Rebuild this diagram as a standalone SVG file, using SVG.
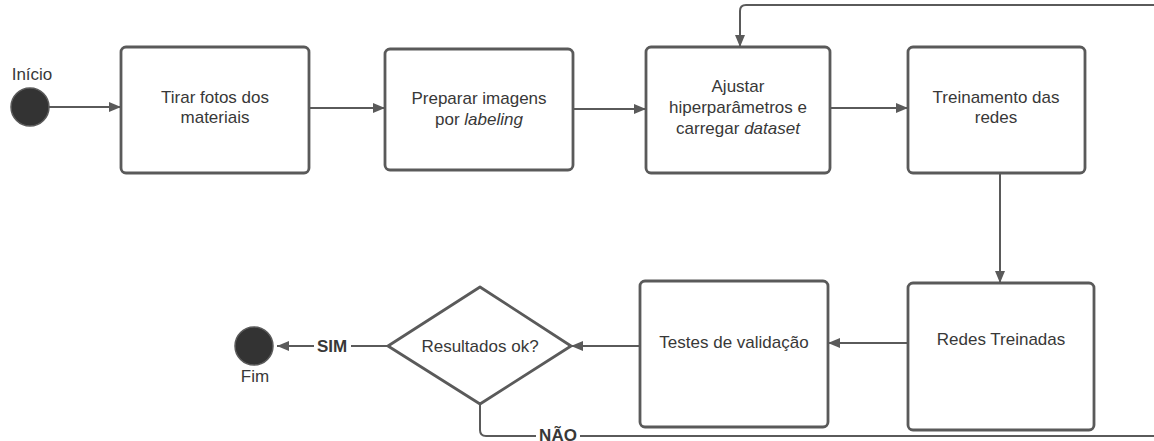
<svg xmlns="http://www.w3.org/2000/svg" width="1154" height="441" viewBox="0 0 1154 441">
<defs>
<style>
.box{fill:#fff;stroke:#5a5a5a;stroke-width:2.8}
.t{font-family:"Liberation Sans",Arial,sans-serif;font-size:17px;fill:#383838;text-anchor:middle}
.lbl{font-family:"Liberation Sans",Arial,sans-serif;font-size:17px;font-weight:bold;fill:#383838;text-anchor:middle}
.c{fill:none;stroke:#5a5a5a;stroke-width:2}
.dot{fill:#333;stroke:#5a5a5a;stroke-width:1.5}
</style>
<marker id="ah" viewBox="0 0 12 10" refX="12" refY="5" markerWidth="12" markerHeight="10" markerUnits="userSpaceOnUse" orient="auto">
<path d="M0,0 L12,5 L0,10 z" fill="#5a5a5a"/>
</marker>
</defs>
<rect width="1154" height="441" fill="#fff"/>
<g id="connectors">
<path class="c" d="M49,107 H121" marker-end="url(#ah)"/>
<path class="c" d="M309,108 H385" marker-end="url(#ah)"/>
<path class="c" d="M573,109 H646" marker-end="url(#ah)"/>
<path class="c" d="M830,108 H908" marker-end="url(#ah)"/>
<path class="c" d="M1000,173 V283" marker-end="url(#ah)"/>
<path class="c" d="M908,343 H828" marker-end="url(#ah)"/>
<path class="c" d="M640,346 H571" marker-end="url(#ah)"/>
<path class="c" d="M388,346 H277" marker-end="url(#ah)"/>
<path class="c" d="M480,404 V430 Q480,436 486,436 H1160 V5 H746 Q740,5 740,11 V47" marker-end="url(#ah)"/>
</g>
<g id="start">
<circle class="dot" cx="30" cy="107" r="19"/>
<text class="t" x="32" y="80">Início</text>
</g>
<g id="n1">
<rect class="box" x="121" y="47" width="188" height="126" rx="5"/>
<text class="t" x="215" y="103">Tirar fotos dos</text>
<text class="t" x="215" y="123">materiais</text>
</g>
<g id="n2">
<rect class="box" x="385" y="49" width="188" height="121" rx="5"/>
<text class="t" x="479" y="104">Preparar imagens</text>
<text class="t" x="479" y="125">por <tspan font-style="italic">labeling</tspan></text>
</g>
<g id="n3">
<rect class="box" x="646" y="47" width="184" height="126" rx="5"/>
<text class="t" x="738" y="92">Ajustar</text>
<text class="t" x="738" y="113">hiperparâmetros e</text>
<text class="t" x="738" y="134">carregar <tspan font-style="italic">dataset</tspan></text>
</g>
<g id="n4">
<rect class="box" x="908" y="47" width="177" height="126" rx="5"/>
<text class="t" x="996" y="103">Treinamento das</text>
<text class="t" x="996" y="123">redes</text>
</g>
<g id="n5">
<rect class="box" x="908" y="283" width="186" height="147" rx="5"/>
<text class="t" x="1001" y="345">Redes Treinadas</text>
</g>
<g id="n6">
<rect class="box" x="640" y="281" width="188" height="146" rx="5"/>
<text class="t" x="734" y="348">Testes de validação</text>
</g>
<g id="decision">
<path class="box" d="M480,287 L571,346 L480,404 L388,346 Z" stroke-linejoin="round"/>
<text class="t" x="480" y="352">Resultados ok?</text>
</g>
<g id="end">
<circle class="dot" cx="254" cy="346" r="19"/>
<text class="t" x="255" y="382">Fim</text>
</g>
<g id="labels">
<rect x="314" y="337" width="37" height="18" fill="#fff"/>
<text class="lbl" x="332" y="352">SIM</text>
<rect x="536" y="426" width="44" height="18" fill="#fff"/>
<text class="lbl" x="558" y="441">NÃO</text>
</g>
</svg>
